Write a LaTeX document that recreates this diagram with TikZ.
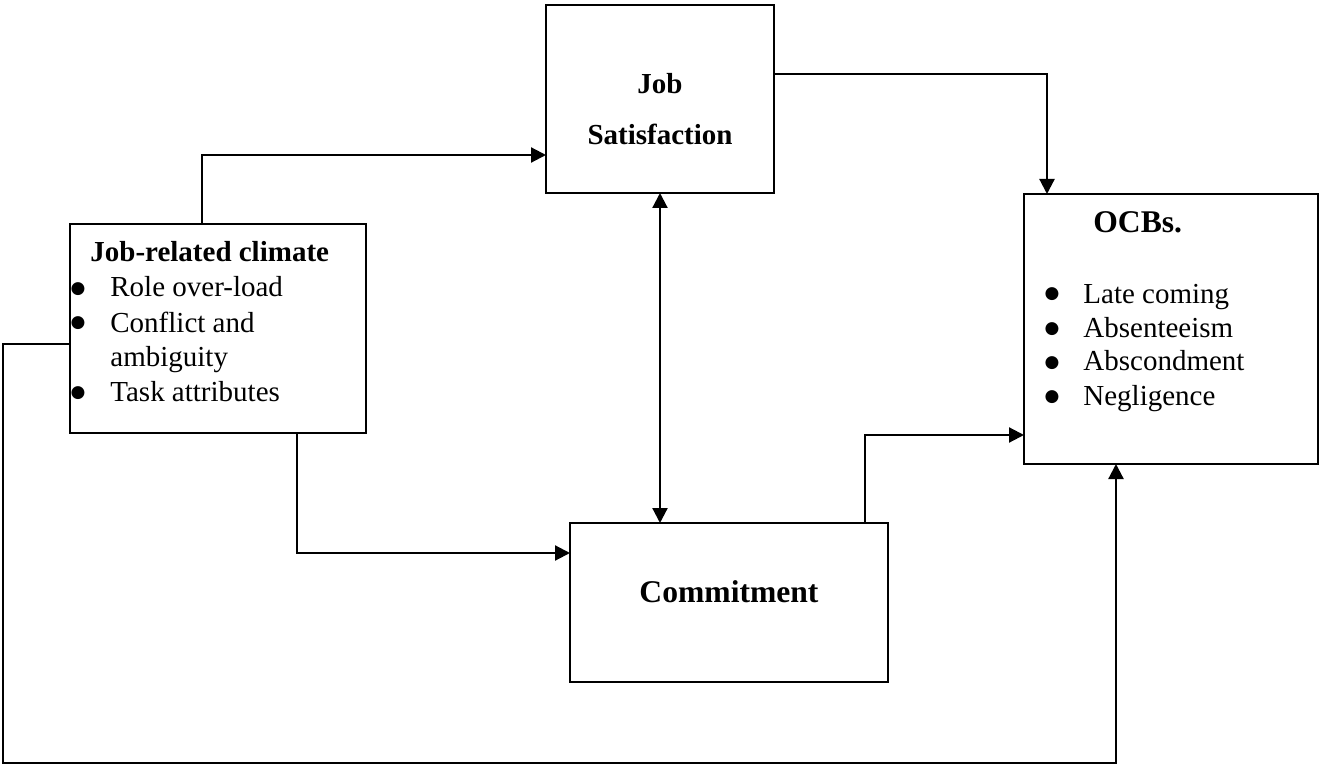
\documentclass[tikz,border=0pt]{standalone}
\usepackage{fontspec}
\setmainfont{Liberation Serif}
\newfontfamily\bulfont{DejaVu Sans}
\usetikzlibrary{arrows.meta,calc}
\begin{document}
\begin{tikzpicture}[x=0.5pt,y=-0.5pt,
  box/.style={draw,line width=1.1pt,inner sep=0pt,outer sep=0pt,fill=white},
  txt/.style={anchor=base west,inner sep=0pt,font=\fontsize{14.5pt}{17pt}\selectfont},
  btxt/.style={anchor=base,inner sep=0pt,font=\fontsize{14.5pt}{17pt}\selectfont\bfseries},
  bigtxt/.style={anchor=base,inner sep=0pt,font=\fontsize{15.8pt}{19pt}\selectfont\bfseries},
  bul/.style={anchor=base,inner sep=0pt,font=\bulfont\fontsize{8.5pt}{10pt}\selectfont},
  conn/.style={line width=1.1pt},
  arr/.style={conn,-{Triangle[length=7.5pt,width=7.5pt]}},
  darr/.style={conn,{Triangle[length=7.5pt,width=7.5pt]}-{Triangle[length=7.5pt,width=7.5pt]}}]
\useasboundingbox (0,0) rectangle (1319,765);

% boxes
\node[box,minimum width=148pt,minimum height=104.5pt] (lb) at (218,328.5) {};
\node[box,minimum width=114pt,minimum height=94pt] (js) at (660,99) {};
\node[box,minimum width=147pt,minimum height=135pt] (ocb) at (1171,329) {};
\node[box,minimum width=159pt,minimum height=79.5pt] (cm) at (729,602.5) {};

% left box text
\node[btxt,anchor=base west] (lbt) at (90,262) {Job-related climate};
\node[bul] (lb1) at (78,293) {●};
\node[txt] (lb1t) at (110,297) {Role over-load};
\node[bul] (lb2) at (78,328) {●};
\node[txt] (lb2t) at (110,332) {Conflict and};
\node[txt] (lb2u) at (110,366) {ambiguity};
\node[bul] (lb3) at (78,397) {●};
\node[txt] (lb3t) at (110,401) {Task attributes};

% job satisfaction
\node[btxt] (jst1) at (660,94) {Job};
\node[btxt] (jst2) at (660,145) {Satisfaction};

% commitment
\node[bigtxt] (cmt) at (729,602) {Commitment};

% OCBs
\node[bigtxt,anchor=base west] (ocbt) at (1093,233) {OCBs.};
\node[bul] (o1) at (1052,299) {●};
\node[txt] (o1t) at (1083,303) {Late coming};
\node[bul] (o2) at (1052,333) {●};
\node[txt] (o2t) at (1083,337) {Absenteeism};
\node[bul] (o3) at (1052,367) {●};
\node[txt] (o3t) at (1083,371) {Abscondment};
\node[bul] (o4) at (1052,401) {●};
\node[txt] (o4t) at (1083,405) {Negligence};

% pivot coordinates
\coordinate (a0) at (lb.north -| 202,0);
\coordinate (a1) at (js.west |- 0,155);
\coordinate (b0) at (js.east |- 0,74);
\coordinate (b1) at (ocb.north -| 1047,0);
\coordinate (c0) at (js.south -| 660,0);
\coordinate (c1) at (cm.north -| 660,0);
\coordinate (d0) at (lb.south -| 297,0);
\coordinate (d1) at (cm.west |- 0,553);
\coordinate (e0) at (cm.north -| 865,0);
\coordinate (e1) at (ocb.west |- 0,435);
\coordinate (f0) at (lb.west |- 0,344);
\coordinate (f1) at (3,763);
\coordinate (f2) at (ocb.south -| 1116,0);

% connectors
\draw[arr] (a0) |- (a1);
\draw[arr] (b0) -| (b1);
\draw[darr] (c0) -- (c1);
\draw[arr] (d0) |- (d1);
\draw[arr] (e0) |- (e1);
\draw[arr] (f0) -| (f1) -| (f2);
\end{tikzpicture}
\end{document}
